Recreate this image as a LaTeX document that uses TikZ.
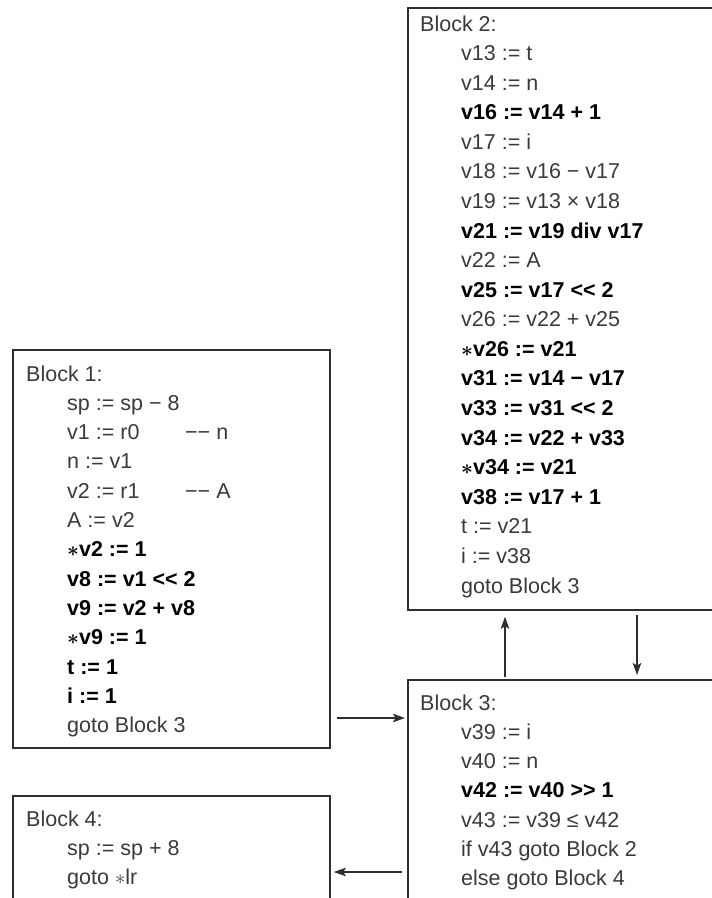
\documentclass[tikz,border=0pt]{standalone}
\usepackage{fontspec}
\setmainfont{Liberation Sans}
\usetikzlibrary{arrows.meta}
\definecolor{linecol}{HTML}{2E2E2E}
\definecolor{txtcol}{HTML}{3A3A3A}
\newcommand\hdr[1]{\hbox{#1}}
\newcommand\stmt[1]{\hbox{\kern41pt #1}}
\newcommand\bstmt[1]{\hbox{\kern41pt\bfseries\boldmath\color{black} #1}}
\newcommand\cmt[2]{\makebox[118pt][l]{#1}#2}
\newcommand\astr{$\ast$}
\tikzset{
  block/.style={draw=linecol, line width=1.8pt, anchor=north west, inner sep=0pt, minimum width=#1},
  blocktxt/.style={anchor=base west, inner sep=0pt, text=txtcol, font=\fontsize{21.5}{29.4}\selectfont},
  flow/.style={draw=linecol, line width=1.3pt, -{Stealth[length=12pt, width=8.5pt, inset=2.5pt]}}
}
\begin{document}
\begin{tikzpicture}[x=1pt, y=-1pt]
\useasboundingbox (0,0) rectangle (712,898);
\clip (0,0) rectangle (712,898);
\fill[white] (0,0) rectangle (712,898);
% boxes
\node[block=317pt, minimum height=398pt] (b1) at (12,349) {};
\node[block=320pt, minimum height=602pt] (b2) at (407,7) {};
\node[block=320pt, minimum height=240pt] (b3) at (407,679) {};
\node[block=317pt, minimum height=120pt] (b4) at (12,795) {};
% texts
\node[blocktxt] (t1) at (26,381) {\vtop{\baselineskip=29.33pt\lineskiplimit=-100pt
  \hdr{Block 1:}
  \stmt{sp := sp − 8}
  \stmt{\cmt{v1 := r0}{−− n}}
  \stmt{n := v1}
  \stmt{\cmt{v2 := r1}{−− A}}
  \stmt{A := v2}
  \bstmt{\astr v2 := 1}
  \bstmt{v8 := v1 <{}< 2}
  \bstmt{v9 := v2 + v8}
  \bstmt{\astr v9 := 1}
  \bstmt{t := 1}
  \bstmt{i := 1}
  \stmt{goto Block 3}}};
\node[blocktxt] (t2) at (420,31) {\vtop{\baselineskip=29.58pt\lineskiplimit=-100pt
  \hdr{Block 2:}
  \stmt{v13 := t}
  \stmt{v14 := n}
  \bstmt{v16 := v14 + 1}
  \stmt{v17 := i}
  \stmt{v18 := v16 − v17}
  \stmt{v19 := v13 × v18}
  \bstmt{v21 := v19 div v17}
  \stmt{v22 := A}
  \bstmt{v25 := v17 <{}< 2}
  \stmt{v26 := v22 + v25}
  \bstmt{\astr v26 := v21}
  \bstmt{v31 := v14 − v17}
  \bstmt{v33 := v31 <{}< 2}
  \bstmt{v34 := v22 + v33}
  \bstmt{\astr v34 := v21}
  \bstmt{v38 := v17 + 1}
  \stmt{t := v21}
  \stmt{i := v38}
  \stmt{goto Block 3}}};
\node[blocktxt] (t3) at (420,710) {\vtop{\baselineskip=29.33pt\lineskiplimit=-100pt
  \hdr{Block 3:}
  \stmt{v39 := i}
  \stmt{v40 := n}
  \bstmt{v42 := v40 >{}> 1}
  \stmt{v43 := v39 ≤ v42}
  \stmt{if v43 goto Block 2}
  \stmt{else goto Block 4}}};
\node[blocktxt] (t4) at (26,826) {\vtop{\baselineskip=29.33pt\lineskiplimit=-100pt
  \hdr{Block 4:}
  \stmt{sp := sp + 8}
  \stmt{goto \astr lr}}};
% connectors
\coordinate (y13) at (0,718);
\coordinate (y34) at (0,872);
\coordinate (x32) at (505,0);
\coordinate (x23) at (637,0);
\draw[flow, shorten <=6pt, shorten >=2pt] (b1.east |- y13) -- (b3.west |- y13);
\draw[flow, shorten <=5pt, shorten >=3pt] (b3.west |- y34) -- (b4.east |- y34);
\draw[flow, shorten <=2pt, shorten >=6pt] (x32 |- b3.north) -- (x32 |- b2.south);
\draw[flow, shorten <=4pt, shorten >=4pt] (x23 |- b2.south) -- (x23 |- b3.north);
\end{tikzpicture}
\end{document}
